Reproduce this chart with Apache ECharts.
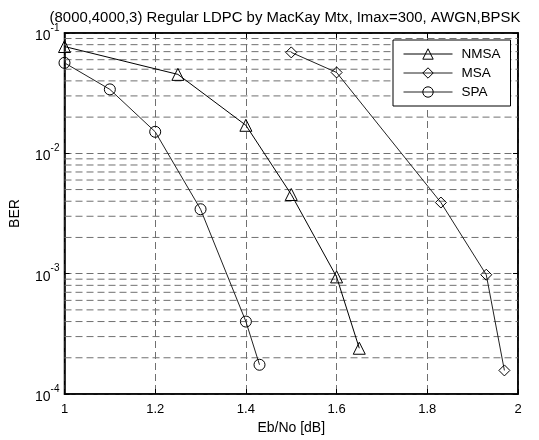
<!DOCTYPE html>
<html><head><meta charset="utf-8">
<script src="https://cdn.jsdelivr.net/npm/echarts@6/dist/echarts.min.js"></script>
<style>html,body{margin:0;padding:0;background:#fff}#c{width:539px;height:440px}</style>
</head><body><div id="c"></div>
<script>
const titleText = '(8000,4000,3) Regular LDPC by MacKay Mtx, Imax=300, AWGN,BPSK';
const xTicks = [1, 1.2, 1.4, 1.6, 1.8, 2];
const yMajor = [1e-4, 1e-3, 1e-2, 1e-1];
const yMinor = [2e-4,3e-4,4e-4,5e-4,6e-4,7e-4,8e-4,9e-4,2e-3,3e-3,4e-3,5e-3,6e-3,7e-3,8e-3,9e-3,2e-2,3e-2,4e-2,5e-2,6e-2,7e-2,8e-2,9e-2];
const nmsaX = [1.0, 1.25, 1.4, 1.5, 1.6, 1.65];
const nmsaY = [0.0772, 0.0453, 0.0171, 0.00455, 0.00094, 0.00024];
const msaX = [1.5, 1.6, 1.83, 1.93, 1.97];
const msaY = [0.069, 0.047, 0.0039, 0.00098, 0.000157];
const spaX = [1.0, 1.1, 1.2, 1.3, 1.4, 1.43];
const spaY = [0.0565, 0.034, 0.0151, 0.00343, 0.0004, 0.000175];

const FONT = 'Liberation Sans';
const gridDash = {color:'#707070', type:[7,4], width:1};
const pairs = (xs, ys) => xs.map((x,i)=>[x, ys[i]]);
const hollow = {color:'rgba(255,255,255,0)', borderColor:'#000', borderWidth:1};

const minorSeries = yMinor.map(v => ({
  type:'line', data:[[xTicks[0], v],[xTicks[xTicks.length-1], v]], symbol:'none', silent:true,
  lineStyle:gridDash, z:1, legendHoverLink:false, tooltip:{show:false}
}));

const chart = echarts.init(document.getElementById('c'), null, {renderer:'canvas'});
chart.setOption({
  animation:false,
  backgroundColor:'#fff',
  textStyle:{fontFamily:FONT},
  title:{text:titleText, left:280, textAlign:'center', top:5, textStyle:{fontFamily:FONT, fontSize:14.9, fontWeight:'normal', color:'#000'}},
  grid:{left:64.5, right:21, top:33, bottom:41, show:true, borderColor:'#000', borderWidth:1.5},
  legend:{
    orient:'vertical', left:393, top:40, padding:[7,10,7,10], itemGap:5, itemWidth:49, itemHeight:13,
    backgroundColor:'#fff', borderColor:'#000', borderWidth:1,
    lineStyle:{width:1}, itemStyle:{borderWidth:1},
    textStyle:{fontFamily:FONT, fontSize:13.5, color:'#000', padding:[0,0,0,4]},
    data:['NMSA','MSA','SPA']
  },
  xAxis:[{
    type:'value', min:1, max:2, interval:0.2,
    name:'Eb/No [dB]', nameLocation:'middle', nameGap:27,
    nameTextStyle:{fontFamily:FONT, fontSize:14, color:'#000'},
    axisLine:{lineStyle:{color:'#000', width:1.5}},
    axisTick:{inside:true, length:5, lineStyle:{color:'#000'}},
    axisLabel:{fontFamily:FONT, fontSize:13, color:'#000', margin:9, formatter:v=>String(Math.round(v*10)/10)},
    splitLine:{show:true, lineStyle:gridDash}
  },{
    type:'value', min:1, max:2, interval:0.2, position:'top',
    axisLine:{lineStyle:{color:'#000', width:1.5}},
    axisTick:{inside:true, length:5, lineStyle:{color:'#000'}},
    axisLabel:{show:false}, splitLine:{show:false}
  }],
  yAxis:[{
    type:'log', logBase:10, min:1e-4, max:1e-1,
    name:'BER', nameLocation:'middle', nameGap:42, nameRotate:90,
    nameTextStyle:{fontFamily:FONT, fontSize:14, color:'#000'},
    axisLine:{lineStyle:{color:'#000', width:1.5}},
    axisTick:{inside:true, length:5, lineStyle:{color:'#000'}},
    axisLabel:{margin:5, formatter:v=>'{b|10}{s|'+Math.round(Math.log10(v))+'}',
      rich:{b:{fontFamily:FONT, fontSize:14, color:'#000', verticalAlign:'bottom', lineHeight:16},
            s:{fontFamily:FONT, fontSize:10, color:'#000', verticalAlign:'top', padding:[0,0,10,0]}}},
    splitLine:{show:true, lineStyle:gridDash}
  },{
    type:'log', logBase:10, min:1e-4, max:1e-1, position:'right',
    axisLine:{lineStyle:{color:'#000', width:1.5}},
    axisTick:{inside:true, length:5, lineStyle:{color:'#000'}},
    axisLabel:{show:false}, splitLine:{show:false}
  }],
  series:[
    ...minorSeries,
    {name:'NMSA', type:'line', data:pairs(nmsaX,nmsaY), symbol:'triangle', symbolSize:12,
      lineStyle:{color:'#000', width:1}, itemStyle:hollow, z:3},
    {name:'MSA', type:'line', data:pairs(msaX,msaY), symbol:'diamond', symbolSize:11,
      lineStyle:{color:'#222', width:1}, itemStyle:hollow, z:3},
    {name:'SPA', type:'line', data:pairs(spaX,spaY), symbol:'circle', symbolSize:11,
      lineStyle:{color:'#222', width:1}, itemStyle:hollow, z:3}
  ]
});
</script></body></html>
